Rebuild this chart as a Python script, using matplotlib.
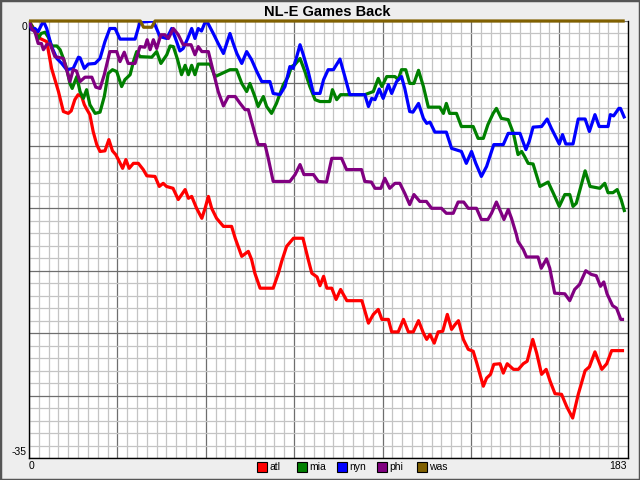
import matplotlib
matplotlib.use("Agg")
import matplotlib.pyplot as plt
from matplotlib.ticker import MultipleLocator
from matplotlib.patches import Rectangle

plt.rcParams['font.family'] = ['Liberation Sans', 'DejaVu Sans']

# games back per team as (game, games back) points
atl = [(0, 0), (3.4, -1.4), (5.4, -1.65), (6.9, -3.8), (9, -5.65), (10.5, -7.25), (12, -7.4),
       (12.9, -7.2), (14, -6.3), (15, -5.9), (16.1, -6.05), (16.9, -6.7), (17.5, -7.0), (18.6, -7.5),
       (19.6, -8.85), (20.7, -9.9), (21.7, -10.45), (23.2, -10.4), (24.4, -9.5), (25.5, -10.4),
       (26.5, -10.7), (27.3, -11.1), (28.6, -11.8), (29.6, -11.1), (30.6, -11.8), (31.9, -11.4),
       (33.4, -11.4), (34.9, -11.9), (36, -12.4), (38.5, -12.45), (39.8, -13.25), (41, -13),
       (42, -13.25), (44, -13.4), (45.6, -14.3), (47.7, -13.5), (48.7, -14.2), (49.7, -14.05),
       (51.2, -15), (52.8, -15.8), (53.8, -15), (54.8, -14.05), (55.8, -15), (57.3, -15.8),
       (59.4, -16.45), (61.9, -16.45), (63, -17.4), (65, -18.85), (67, -18.45), (68, -19.1),
       (69, -20.2), (70.6, -21.4), (74.6, -21.4), (76.2, -20.2), (77.2, -19.25), (78.7, -18.05),
       (80.8, -17.4), (83.7, -17.4), (85.3, -19.1), (86.4, -20.2), (88, -20.5), (88.9, -21.2),
       (90, -20.45), (91, -21.4), (92.5, -21.4), (93.8, -22.3), (95.2, -21.5), (97.1, -22.4),
       (101.7, -22.4), (103.7, -24.2), (105.2, -23.5), (106.7, -23.1), (107.8, -23.9),
       (109.8, -23.9), (110.8, -24.9), (112.8, -24.9), (114.4, -23.9), (115.9, -24.9),
       (117.4, -24.9), (119, -24), (120.5, -25), (121.5, -25.5), (122.5, -25.1), (123.8, -25.8),
       (125, -24.9), (126.4, -24.85), (127.8, -23.5), (129.1, -24.7), (130.2, -24.3), (131.2, -24),
       (132.7, -25.5), (134.2, -26.3), (135.7, -26.45), (136.8, -27.4), (138.8, -29.25),
       (139.8, -28.6), (141, -28.3), (142, -27.5), (143.9, -27.45), (144.9, -28.2), (146.1, -27.45),
       (148, -27.9), (149.5, -27.9), (151, -27.45), (152.2, -27.25), (153.9, -25.5), (155.1, -26.6),
       (156.6, -28.3), (158, -27.9), (159.2, -28.85), (160.7, -29.85), (162.7, -29.9),
       (164.3, -30.9), (166.1, -31.8), (167.8, -29.9), (169.9, -28), (171.2, -27.7), (172.9, -26.5),
       (175, -27.9), (176.5, -27.45), (178, -26.4), (181.8, -26.4)]

mia = [(0, 0), (1.3, -0.6), (2.8, -1.4), (3.7, -1), (4.9, -0.9), (5.9, -1.3), (6.9, -2), (8.5, -2),
       (9.5, -2.3), (10.5, -3), (11.5, -3.8), (12.5, -5), (13.2, -5.4), (14.6, -4.45), (15.6, -5.65),
       (16.6, -6.2), (17.6, -5.5), (18.6, -6.7), (20.2, -7.4), (21.7, -7.3), (23, -6.05),
       (24.2, -4.2), (25.5, -3.9), (26.8, -4.05), (28.3, -5.25), (29.3, -4.7), (30.9, -4.3),
       (31.9, -3.25), (32.9, -2.45), (33.9, -2.85), (37.5, -2.9), (39, -2.45), (40.3, -3.4),
       (42.1, -2.7), (43.1, -2), (44.1, -2.05), (45.4, -3.1), (46.6, -4.3), (47.7, -3.55),
       (48.7, -4.3), (49.7, -3.55), (50.7, -4.3), (51.7, -3.45), (55.3, -3.45), (56.8, -4.45),
       (57.3, -4.4), (61.4, -3.9), (63.4, -3.9), (65, -5), (66.5, -5.65), (67.5, -5), (69, -6.05),
       (70, -6.85), (71.6, -6.05), (72.6, -6.85), (74.1, -7.4), (75.6, -6.6), (77.7, -5.1),
       (79.2, -4.45), (80.2, -3.65), (81.2, -3.5), (82.8, -3), (84.3, -4.05), (85.8, -5.25),
       (87.4, -6.3), (88.9, -6.45), (91.9, -6.45), (92.7, -5.5), (94, -6.3), (95.2, -5.9),
       (102.6, -5.9), (105.2, -5.65), (106.7, -4.6), (107.8, -5.25), (109.3, -4.45),
       (111.8, -4.45), (112.8, -4.7), (113.8, -3.9), (115.1, -3.9), (116.3, -5), (117.6, -5),
       (119, -3.95), (120.5, -5.25), (122, -6.9), (125.5, -6.9), (126.6, -7.4), (127.5, -6.6),
       (128.5, -7.4), (130.6, -7.4), (132.1, -8.45), (135.7, -8.45), (137.2, -9.4), (138.8, -9.4),
       (140.2, -8.3), (141.8, -7.4), (142.8, -7), (144.3, -7.8), (146.4, -7.9), (148, -9),
       (149.4, -10.7), (150.5, -10.45), (151.4, -10.85), (152.5, -11.4), (154, -11.45),
       (156.1, -13.25), (158.6, -12.9), (160.2, -13.8), (162, -14.85), (163.7, -13.9),
       (165.2, -13.9), (166.2, -14.85), (167.2, -14.6), (169.9, -12), (171.4, -13.25),
       (174.4, -13.4), (175.9, -13), (176.9, -13.75), (178.4, -13.75), (179.7, -13.5),
       (180.9, -14.3), (182, -15.3)]

nyn = [(0, 0), (0.8, -0.7), (1.8, -0.6), (2.8, -0.85), (4.4, 0), (5.4, -0.6), (6.9, -2.05),
       (8.5, -3), (10, -3.4), (11.5, -3.9), (13.5, -3.8), (15.1, -2.9), (15.6, -2.95), (16.9, -3.8),
       (18.1, -3.45), (20.2, -3.4), (21.7, -3), (23.2, -1.65), (24.7, -0.6), (26.3, -0.6),
       (27.8, -1.45), (32.4, -1.45), (33.9, -0.1), (38, 0), (40, -1.25), (42.1, -1.4), (43.6, -0.6),
       (45.1, -1.65), (46.1, -2.4), (47.1, -2.2), (48.5, -1.4), (49.7, -0.6), (50.7, -1.4),
       (51.7, -0.6), (52.7, -0.8), (53.8, -0.1), (54.3, 0), (56.3, -1), (57.8, -1.8), (59.4, -2.6),
       (60.4, -1.8), (61.4, -1), (62.4, -1.8), (63.5, -2.6), (65, -3.4), (66.5, -2.45), (68, -3.1),
       (69.6, -4.05), (71.1, -4.85), (73.6, -4.85), (74.6, -5.8), (76.7, -5.9), (78.2, -5.25),
       (79.7, -3.65), (80.7, -3.8), (81.8, -2.85), (82.8, -1.9), (83.8, -2.7), (85.3, -4.05),
       (86.9, -5.8), (88.9, -5.8), (90, -4.7), (91.4, -3.9), (93, -3.9), (95, -3.05), (96.5, -4.45),
       (98, -5.9), (102.6, -5.9), (103.7, -6.85), (104.7, -6.2), (105.7, -6.3), (107, -5.45),
       (108.2, -6.2), (109.8, -5.1), (110.8, -5.8), (112.3, -4.85), (113.8, -4.45), (114.8, -5.4),
       (116.3, -7.25), (117.3, -7.3), (119, -6.6), (120.5, -7.8), (121.5, -8.2), (122.5, -8.1),
       (124, -8.9), (127.5, -8.9), (129.1, -10.2), (132.1, -10.45), (133.6, -11.4), (135.2, -10.45),
       (136.5, -11.4), (138.2, -12.45), (139.8, -11.65), (141.3, -10.45), (142, -9.9), (144.9, -9.9),
       (146.4, -9), (150, -9), (151.8, -10.3), (152.8, -9.65), (154, -8.5), (156.6, -8.45),
       (158.3, -7.85), (159.6, -8.6), (162, -9.85), (163, -9.1), (164, -9.85), (166.2, -9.85),
       (167.8, -7.85), (169.9, -7.85), (171.2, -8.85), (172.9, -7.5), (174.2, -8.45),
       (176.9, -8.45), (177.6, -7.5), (178.6, -7.6), (180.2, -7), (180.7, -7), (182, -7.8)]

phi = [(0, 0), (1, -0.7), (1.8, -0.85), (2.8, -1.8), (3.8, -1.8), (4.4, -2.3), (5.4, -1.9),
       (6.4, -1.8), (7.9, -2.85), (10.5, -3), (11.5, -3.9), (12.5, -4.85), (13.5, -3.9), (14.5, -4.0),
       (15.6, -4.85), (17.1, -4.5), (19.2, -4.5), (20.4, -5.3), (21.7, -5.4), (23, -4.3),
       (24.7, -2.45), (26.8, -2.45), (27.8, -3.25), (29.1, -2.5), (30.3, -3.4), (32.4, -3.4),
       (33.9, -2.05), (35.4, -2.1), (36.1, -1.5), (37, -2.3), (38, -1.5), (39, -2.2), (40.3, -1.1),
       (41.5, -1.1), (42.6, -1.4), (44.1, -0.6), (45.6, -1.1), (47.1, -1.9), (49.5, -1.9),
       (50.7, -2.7), (51.7, -2.05), (52.8, -2.45), (54.8, -2.45), (56.3, -4.05), (57.8, -5.65),
       (59.4, -6.8), (60.9, -6.05), (63, -6.05), (64.5, -6.6), (66, -7.1), (67, -7.1), (69, -9),
       (70, -9.9), (72.1, -9.9), (73.1, -11), (74.6, -12.85), (79.7, -12.85), (81.3, -12.3),
       (82.8, -11.5), (84, -12.3), (86.9, -12.3), (88.4, -12.85), (90.9, -12.9), (92.5, -11),
       (95.5, -11), (97, -11.9), (101.6, -11.9), (102.6, -12.85), (104.6, -12.9), (105.7, -13.4),
       (107.5, -13.4), (108.7, -12.6), (110.2, -13.4), (111.8, -13), (113.3, -13), (114.8, -13.8),
       (116.3, -14.7), (117.6, -13.9), (119.4, -14.45), (121.4, -14.45), (123, -15), (126, -15),
       (127.5, -15.4), (129.6, -15.4), (131.1, -14.5), (132.8, -14.5), (134.2, -15), (136.7, -15),
       (138.2, -15.9), (140.2, -15.9), (141.3, -15.4), (142.8, -14.5), (144.3, -15.4),
       (145.1, -15.9), (146.4, -15.1), (147.4, -15.8), (148.9, -17.1), (149.4, -17.65),
       (151, -18.3), (152, -18.9), (155.5, -18.9), (156.5, -19.8), (158.1, -19.05), (159.1, -19.8),
       (160.6, -21.8), (163.7, -21.85), (165.2, -22.4), (166.7, -21.5), (168.2, -21.1),
       (170.1, -20), (171.8, -20.3), (173.3, -20.4), (174.6, -21.25), (175.6, -20.9),
       (176.6, -21.85), (178.3, -22.8), (179.5, -23), (180.8, -23.9), (181.8, -23.9)]

was = [(0, 0), (34, 0), (35, -0.5), (37.5, -0.5), (38.5, 0), (182, 0)]

teams = ['atl', 'mia', 'nyn', 'phi', 'was']
series = [atl, mia, nyn, phi, was]
colors = ['#FF0000', '#008000', '#0000FF', '#800080', '#806000']

x_max = 183
y_min = -35

fig = plt.figure(figsize=(6.4, 4.8), dpi=100, facecolor='#EEEEEE')
ax = fig.add_axes([29 / 640, 22 / 480, 599 / 640, 437 / 480])
ax.set_facecolor('white')

ax.set_xlim(0, x_max)
ax.set_ylim(y_min, 0)
ax.xaxis.set_major_locator(MultipleLocator(27))
ax.xaxis.set_minor_locator(MultipleLocator(3))
ax.yaxis.set_major_locator(MultipleLocator(5))
ax.yaxis.set_minor_locator(MultipleLocator(1))
ax.grid(which='minor', color='#C4C4C4', lw=0.9)
ax.grid(which='major', color='#6E6E6E', lw=0.9)
ax.set_axisbelow(True)
ax.tick_params(which='both', length=0, labelbottom=False, labelleft=False)
for side in ['left', 'bottom', 'right']:
    ax.spines[side].set_color('black')
    ax.spines[side].set_linewidth(1.0)
ax.spines['top'].set_visible(False)

for name, pts, c in zip(teams, series, colors):
    g = [p[0] for p in pts]
    v = [p[1] for p in pts]
    ax.plot(g, v, color=c, lw=2.3, solid_joinstyle='round', solid_capstyle='butt',
            clip_on=(name != 'was'), zorder=3)

# title and end labels
fig.text(327 / 640, 1 - 12 / 480, 'NL-E Games Back', ha='center', va='center',
         fontsize=10.5, fontweight='bold')
fig.text(27 / 640, 1 - 22 / 480, '0', ha='right', va='top', fontsize=7.5)
fig.text(27 / 640, 1 - 457 / 480, str(y_min), ha='right', va='bottom', fontsize=7.5)
fig.text(29 / 640, 1 - 461 / 480, '0', ha='left', va='top', fontsize=7.5)
fig.text(627 / 640, 1 - 461 / 480, str(x_max), ha='right', va='top', fontsize=7.5)

# legend along the bottom
for i, (name, c) in enumerate(zip(teams, colors)):
    x0 = 257 + i * 40
    fig.add_artist(Rectangle((x0 / 640, 1 - 472 / 480), 10 / 640, 10 / 480,
                             transform=fig.transFigure, facecolor=c, edgecolor='black', lw=0.8))
    fig.text((x0 + 12) / 640, 1 - 467 / 480, name, ha='left', va='center', fontsize=7.5)

# window frame
fig.add_artist(Rectangle((0, 0), 1, 1, transform=fig.transFigure, facecolor='none',
                         edgecolor='#555555', lw=2.5))

fig.savefig('out.png', dpi=100, facecolor=fig.get_facecolor())
